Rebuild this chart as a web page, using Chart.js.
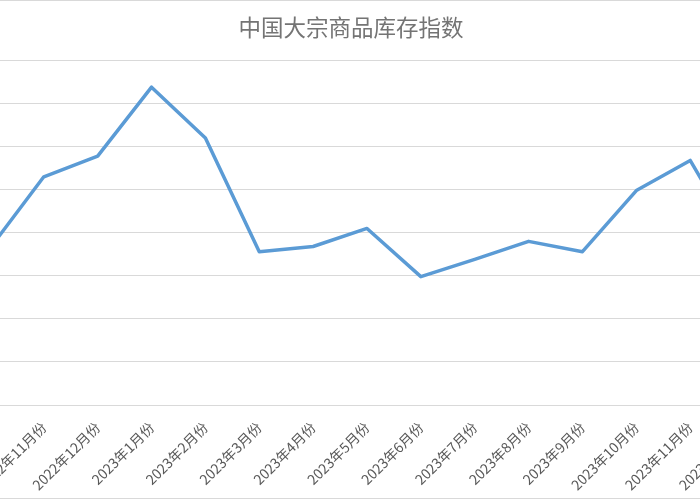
<!DOCTYPE html>
<html>
<head>
<meta charset="utf-8">
<script src="https://cdn.jsdelivr.net/npm/chart.js@4.4.0/dist/chart.umd.min.js"></script>
<style>
  html, body { margin: 0; padding: 0; background: #fff; overflow: hidden; }
  #frame {
    position: absolute; left: 0; top: 0; width: 700px; height: 497px;
    border-top: 1px solid #d9d9d9; border-bottom: 1px solid #d9d9d9;
    overflow: hidden;
  }
  #box { position: absolute; left: -69px; top: -1px; width: 840px; height: 498px; }
</style>
</head>
<body>
<div id="frame"><div id="box"><canvas id="inventoryChart"></canvas></div></div>
<script>
// months shown on the x axis (first and last are cut off by the frame)
const months = [
  '2022年10月份', '2022年11月份', '2022年12月份', '2023年1月份', '2023年2月份',
  '2023年3月份', '2023年4月份', '2023年5月份', '2023年6月份', '2023年7月份',
  '2023年8月份', '2023年9月份', '2023年10月份', '2023年11月份', '2023年12月份'
];
// index values
const inventoryIndex = [
  98.2, 106.5, 108.9, 116.9, 111.0,
  97.8, 98.4, 100.5, 94.9, 96.9,
  99.0, 97.8, 104.9, 108.4, 97.7
];
const yMin = 80, yMax = 120, yStep = 5;

const ctx = document.getElementById('inventoryChart').getContext('2d');
new Chart(ctx, {
  type: 'line',
  data: {
    labels: months,
    datasets: [{
      label: '中国大宗商品库存指数',
      data: inventoryIndex,
      borderColor: '#5b9bd5',
      borderWidth: 3.5,
      borderJoinStyle: 'round',
      borderCapStyle: 'round',
      pointRadius: 0,
      tension: 0,
      fill: false
    }]
  },
  options: {
    responsive: true,
    maintainAspectRatio: false,
    animation: false,
    layout: { autoPadding: false, padding: 0 },
    plugins: {
      legend: { display: false },
      tooltip: { enabled: false },
      title: {
        display: true,
        text: '中国大宗商品库存指数',
        color: '#747474',
        font: { family: '"Noto Sans CJK SC", sans-serif', size: 22.5, weight: 'normal' },
        padding: { top: 14, bottom: 19.5 }
      }
    },
    scales: {
      x: {
        offset: true,
        grid: { display: false, drawTicks: false },
        border: { display: true, color: '#d9d9d9', width: 1 },
        ticks: {
          autoSkip: false,
          minRotation: 45,
          maxRotation: 45,
          padding: 14,
          color: '#595959',
          font: { family: '"Noto Sans CJK SC", sans-serif', size: 14 }
        },
        afterFit: function (scale) {
          // labels are allowed to run past the frame, like in the cropped original
          scale.height = 93;
          scale.paddingLeft = 0;
          scale.paddingRight = 0;
        }
      },
      y: {
        position: 'left',
        min: yMin,
        max: yMax,
        ticks: { display: false, stepSize: yStep },
        grid: { color: '#d9d9d9', lineWidth: 1, drawTicks: false },
        border: { display: false },
        afterFit: function (scale) { scale.width = 32; }
      }
    }
  }
});
</script>
</body>
</html>
